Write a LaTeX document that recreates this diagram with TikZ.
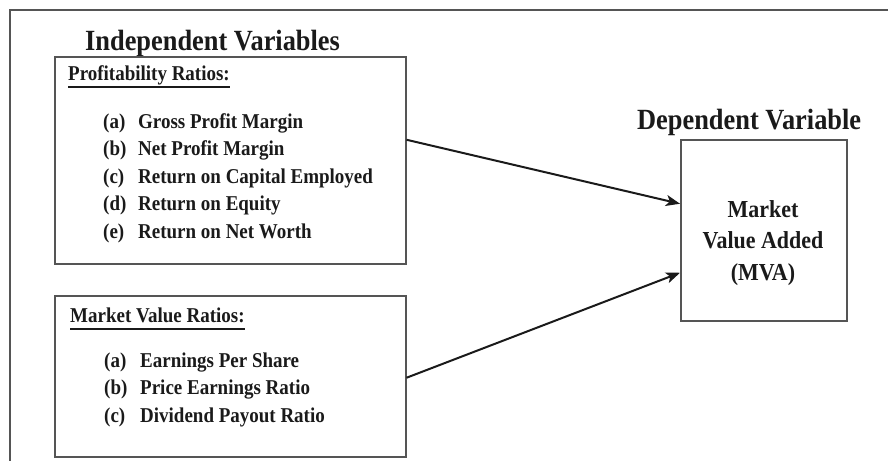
\documentclass[tikz,border=0pt]{standalone}
\usepackage{fontspec}
\setmainfont[FakeStretch=0.9]{Liberation Serif}
\usetikzlibrary{arrows.meta}
\definecolor{ink}{HTML}{1A1A1A}
\definecolor{boxline}{HTML}{555555}
\tikzset{
  box/.style={draw=boxline, line width=1.5pt, inner sep=0pt, anchor=north west},
  head/.style={anchor=base west, inner sep=0pt, text=ink, font=\bfseries\fontsize{29.3}{33}\selectfont},
  sub/.style={anchor=base west, inner sep=0pt, text=ink, font=\bfseries\fontsize{21.1}{25}\selectfont},
  item/.style={anchor=base west, inner sep=0pt, text=ink, font=\bfseries\fontsize{21.1}{25}\selectfont},
  mvatext/.style={anchor=base, inner sep=0pt, text=ink, font=\bfseries\fontsize{24.4}{28}\selectfont},
  ul/.style={draw=ink, line width=1.5pt},
  conn/.style={draw=ink, line width=2pt, -{Stealth[length=14pt,width=11pt,inset=3.5pt]}},
  frame/.style={draw=boxline, line width=1.3pt}
}
\begin{document}
\begin{tikzpicture}[x=1pt,y=-1pt]
\useasboundingbox (0,0) rectangle (888,461);
% outer frame (top and left edges)
\coordinate (fr1) at (888,10);
\coordinate (fr2) at (10,10);
\coordinate (fr3) at (10,461);
\draw[frame] (fr1) -- (fr2) -- (fr3);

% headings
\node[head] (indep) at (85,50) {Independent Variables};
\node[head] (dep) at (637,129) {Dependent Variable};

% boxes
\node[box, minimum width=351pt, minimum height=207pt] (prof) at (54,56) {};
\node[box, minimum width=351pt, minimum height=161pt] (mkt) at (54,295) {};
\node[box, minimum width=166pt, minimum height=181pt] (mva) at (680,139) {};

% profitability ratios
\node[sub] (proft) at (68,80) {Profitability Ratios:};
\draw[ul] ([yshift=-7pt]proft.base west) -- ([yshift=-7pt]proft.base east);
\node[item] (pa) at (103,128) {(a)};
\node[item] (pat) at (138,128) {Gross Profit Margin};
\node[item] (pb) at (103,155.5) {(b)};
\node[item] (pbt) at (138,155.5) {Net Profit Margin};
\node[item] (pc) at (103,183) {(c)};
\node[item] (pct) at (138,183) {Return on Capital Employed};
\node[item] (pd) at (103,210.5) {(d)};
\node[item] (pdt) at (138,210.5) {Return on Equity};
\node[item] (pe) at (103,238) {(e)};
\node[item] (pet) at (138,238) {Return on Net Worth};

% market value ratios
\node[sub] (mktt) at (70,322) {Market Value Ratios:};
\draw[ul] ([yshift=-7pt]mktt.base west) -- ([yshift=-7pt]mktt.base east);
\node[item] (ma) at (104,367) {(a)};
\node[item] (mat) at (140,367) {Earnings Per Share};
\node[item] (mb) at (104,394.5) {(b)};
\node[item] (mbt) at (140,394.5) {Price Earnings Ratio};
\node[item] (mc) at (104,422) {(c)};
\node[item] (mct) at (140,422) {Dividend Payout Ratio};

% MVA text
\node[mvatext] (mv1) at (763,217) {Market};
\node[mvatext] (mv2) at (763,248) {Value Added};
\node[mvatext] (mv3) at (763,280) {(MVA)};

% connectors
\draw[conn] ([yshift=20.5pt]prof.east) -- ([yshift=26.5pt]mva.west);
\draw[conn] ([yshift=-1.5pt]mkt.east) -- ([yshift=-42.5pt]mva.west);
\end{tikzpicture}
\end{document}
